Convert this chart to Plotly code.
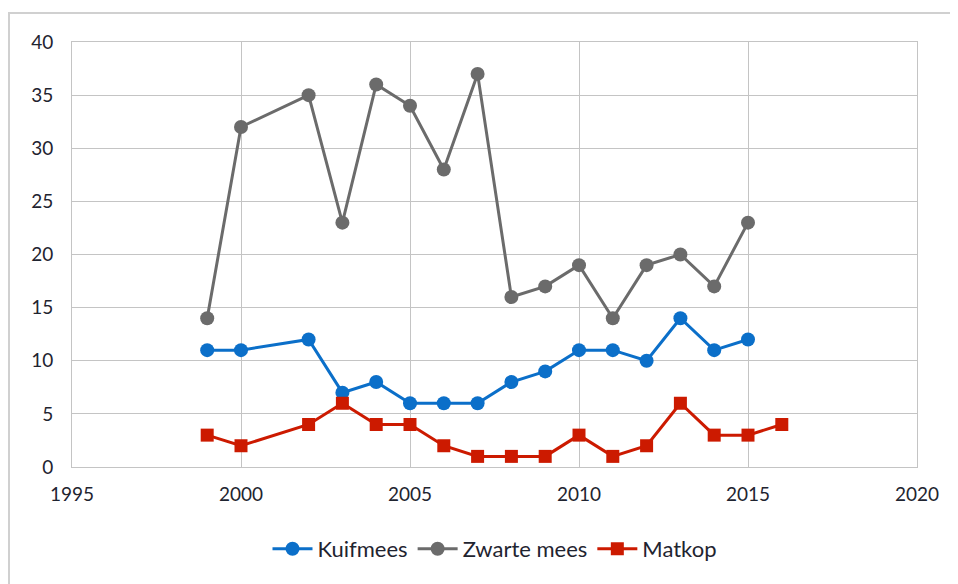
import plotly.graph_objects as go

years_kuif = [1999, 2000, 2002, 2003, 2004, 2005, 2006, 2007, 2008, 2009, 2010, 2011, 2012, 2013, 2014, 2015]
kuifmees = [11, 11, 12, 7, 8, 6, 6, 6, 8, 9, 11, 11, 10, 14, 11, 12]

years_zwart = [1999, 2000, 2002, 2003, 2004, 2005, 2006, 2007, 2008, 2009, 2010, 2011, 2012, 2013, 2014, 2015]
zwarte_mees = [14, 32, 35, 23, 36, 34, 28, 37, 16, 17, 19, 14, 19, 20, 17, 23]

years_mat = [1999, 2000, 2002, 2003, 2004, 2005, 2006, 2007, 2008, 2009, 2010, 2011, 2012, 2013, 2014, 2015, 2016]
matkop = [3, 2, 4, 6, 4, 4, 2, 1, 1, 1, 3, 1, 2, 6, 3, 3, 4]

x_ticks = [1995, 2000, 2005, 2010, 2015, 2020]
y_ticks = [0, 5, 10, 15, 20, 25, 30, 35, 40]

fig = go.Figure()
fig.add_trace(go.Scatter(x=years_kuif, y=kuifmees, name="Kuifmees", mode="lines+markers",
                         line=dict(color="#0b6fc9", width=3),
                         marker=dict(symbol="circle", size=14, color="#0b6fc9")))
fig.add_trace(go.Scatter(x=years_zwart, y=zwarte_mees, name="Zwarte mees", mode="lines+markers",
                         line=dict(color="#6b6b6b", width=3),
                         marker=dict(symbol="circle", size=14, color="#6b6b6b")))
fig.add_trace(go.Scatter(x=years_mat, y=matkop, name="Matkop", mode="lines+markers",
                         line=dict(color="#cc1a00", width=3),
                         marker=dict(symbol="square", size=13, color="#cc1a00")))

grid = "#c4c4c4"
L, T, R, B = 64, 34, 49, 125
ph = 584 - T - B
pw = 958 - L - R
fig.update_layout(
    width=958, height=584,
    margin=dict(l=L, r=R, t=T, b=B, autoexpand=False),
    paper_bgcolor="white", plot_bgcolor="white",
    font=dict(family="Lato, 'Open Sans', sans-serif", size=19, color="#1f2430"),
    showlegend=True,
    legend=dict(orientation="h", x=0.5, xanchor="center", y=(459 - 541) / ph, yanchor="middle",
                font=dict(size=22), itemwidth=40, tracegroupgap=0),
    xaxis=dict(range=[1995, 2020], tickmode="array", tickvals=x_ticks,
               ticktext=[str(v) for v in x_ticks],
               showgrid=True, gridcolor=grid, gridwidth=1,
               showline=True, linecolor=grid, mirror=True, zeroline=False,
               ticks="", ticklabelstandoff=10, automargin=False),
    yaxis=dict(range=[0, 40], tickmode="array", tickvals=y_ticks,
               ticktext=[str(v) for v in y_ticks],
               showgrid=True, gridcolor=grid, gridwidth=1,
               showline=True, linecolor=grid, mirror=True, zeroline=False,
               ticks="", ticklabelstandoff=14, automargin=False),
    shapes=[dict(type="rect", xref="paper", yref="paper",
                 x0=(1 - L) / pw, x1=(1000 - L) / pw,
                 y0=(459 - 700) / ph, y1=(459 - 5) / ph,
                 line=dict(color="#d0d0d0", width=2), fillcolor="rgba(0,0,0,0)", layer="below")],
)

fig.write_html("out.html")
